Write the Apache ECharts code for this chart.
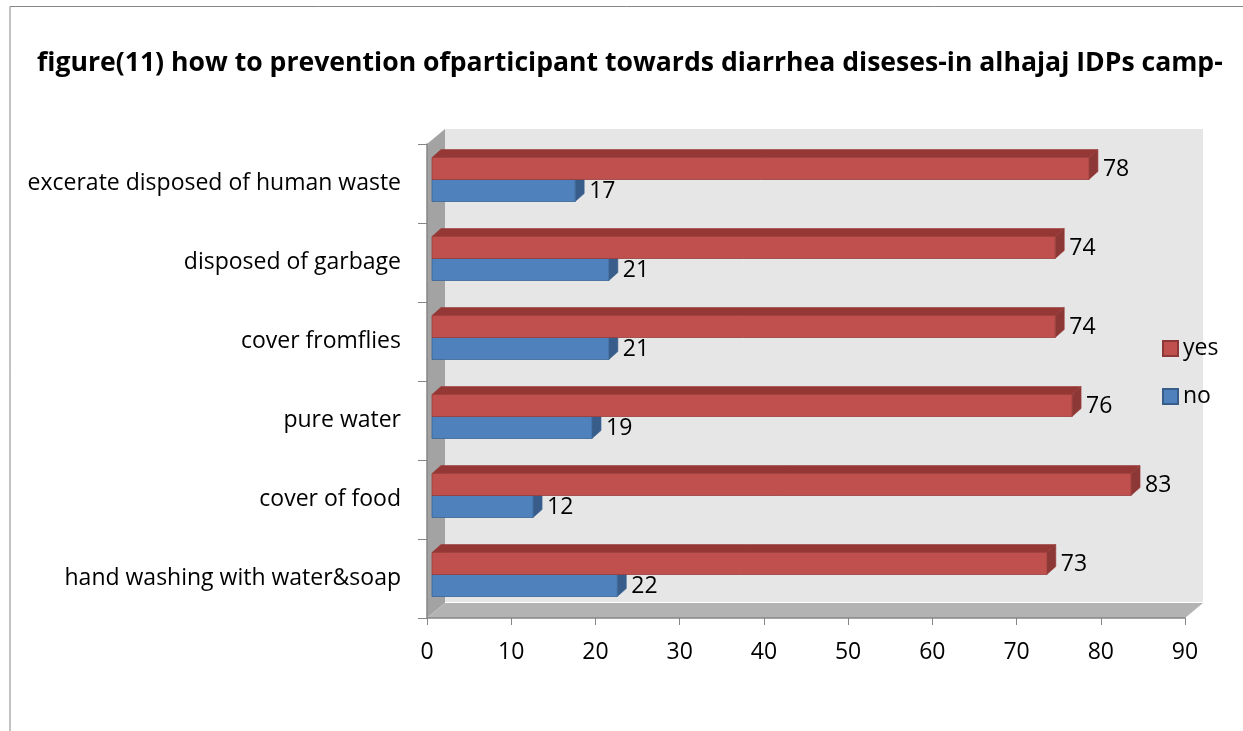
<!DOCTYPE html>
<html>
<head>
<meta charset="utf-8">
<script src="https://cdn.jsdelivr.net/npm/echarts@6/dist/echarts.min.js"></script>
<style>
  html, body { margin: 0; padding: 0; background: #fff; }
  #chart { width: 1243px; height: 731px; }
</style>
</head>
<body>
<div id="chart"></div>
<script>
  // categories top to bottom
  const categories = [
    "excerate disposed of human waste",
    "disposed of garbage",
    "cover fromflies",
    "pure water",
    "cover of food",
    "hand washing with water&soap"
  ];
  const yesValues = [78, 74, 74, 76, 83, 73];
  const noValues = [17, 21, 21, 19, 12, 22];
  const xTicks = { min: 0, max: 90, interval: 10 };

  const FONT = '"Open Sans", "Noto Sans", sans-serif';
  const chart = echarts.init(document.getElementById("chart"));

  // 3D depth of the walls / bars
  const wallDx = 18, wallDy = 15;
  const barDx = 9, barDy = 8;
  const barShift = 5;

  // box bar: front face, top face, end face and a value label
  const makeBar = (relTop, relBot, front, topFace, endFace, stroke) => (params, api) => {
    const v = api.value(0);
    const idx = api.value(1);
    const p0 = api.coord([0, idx]);
    const p1 = api.coord([v, idx]);
    const band = api.size([0, 1])[1];
    const x0 = p0[0] + barShift;
    const x1 = p1[0] + barShift;
    const yT = p0[1] + band * relTop;
    const yB = p0[1] + band * relBot;
    return {
      type: "group",
      children: [
        {
          type: "polygon",
          shape: { points: [[x0, yT], [x0 + barDx, yT - barDy], [x1 + barDx, yT - barDy], [x1, yT]] },
          style: { fill: topFace, stroke: stroke, lineWidth: 0.6 }
        },
        {
          type: "polygon",
          shape: { points: [[x1, yT], [x1 + barDx, yT - barDy], [x1 + barDx, yB - barDy], [x1, yB]] },
          style: { fill: endFace, stroke: stroke, lineWidth: 0.6 }
        },
        {
          type: "rect",
          shape: { x: x0, y: yT, width: x1 - x0, height: yB - yT },
          style: { fill: front, stroke: stroke, lineWidth: 0.8 }
        },
        {
          type: "text",
          x: x1 + barDx + 5,
          y: (yT + yB) / 2 + 1,
          style: { text: String(v), fill: "#000", font: "23px " + FONT, verticalAlign: "middle" }
        }
      ]
    };
  };

  // back wall, side wall and floor
  const renderWalls = (params) => {
    const c = params.coordSys;
    const L = c.x, T = c.y, R = c.x + c.width, B = c.y + c.height;
    return {
      type: "group",
      silent: true,
      children: [
        { type: "rect", shape: { x: L + wallDx, y: T - wallDy, width: c.width, height: c.height - 1 },
          style: { fill: "#e6e6e6" } },
        { type: "polygon", shape: { points: [[L, T], [L + wallDx, T - wallDy], [L + wallDx, B - wallDy], [L, B]] },
          style: { fill: "#a3a3a3" } },
        { type: "polygon", shape: { points: [[L, B], [L + wallDx, B - wallDy], [R + wallDx, B - wallDy], [R, B]] },
          style: { fill: "#b3b3b3" } }
      ]
    };
  };

  const option = {
    animation: false,
    backgroundColor: "#fff",
    textStyle: { fontFamily: FONT },
    title: {
      text: "figure(11) how to prevention ofparticipant towards diarrhea diseses-in alhajaj IDPs camp-",
      left: 37,
      top: 50,
      padding: 0,
      textStyle: { fontSize: 26.6, fontWeight: "bold", color: "#000", fontFamily: FONT }
    },
    graphic: [
      {
        type: "polyline",
        shape: { points: [[10, 731], [10, 6.5], [1243, 6.5]] },
        style: { stroke: "#868686", lineWidth: 1, fill: null },
        silent: true
      }
    ],
    legend: {
      data: ["yes", "no"],
      orient: "vertical",
      left: 1157,
      top: 332,
      itemWidth: 15,
      itemHeight: 15,
      itemGap: 25,
      itemTextGap: 7,
      icon: "rect",
      textStyle: { fontSize: 23, color: "#000", fontFamily: FONT }
    },
    grid: { left: 427, top: 144, width: 758, height: 474 },
    xAxis: {
      type: "value",
      min: xTicks.min,
      max: xTicks.max,
      interval: xTicks.interval,
      axisLine: { show: true, lineStyle: { color: "#868686", width: 1.5 } },
      axisTick: { show: true, length: 7, lineStyle: { color: "#868686" } },
      splitLine: { show: false },
      axisLabel: { fontSize: 23, color: "#000", margin: 23, fontFamily: FONT }
    },
    yAxis: {
      type: "category",
      data: categories,
      inverse: true,
      axisLine: { show: true, lineStyle: { color: "#868686", width: 1.5 } },
      axisTick: { show: true, length: 9, lineStyle: { color: "#868686" } },
      axisLabel: { fontSize: 23, color: "#000", margin: 26, fontFamily: FONT }
    },
    series: [
      {
        name: "walls",
        type: "custom",
        silent: true,
        z: 0,
        renderItem: renderWalls,
        data: [[0, 0]],
        encode: { x: 0, y: 1 }
      },
      {
        name: "no",
        type: "custom",
        z: 2,
        itemStyle: { color: "#4f81bd", borderColor: "#385d8a", borderWidth: 1 },
        renderItem: makeBar(-4 / 79, 18 / 79, "#4f81bd", "#3f6a9e", "#385d8a", "#3a6494"),
        data: noValues.map((v, i) => [v, i]),
        encode: { x: 0, y: 1 }
      },
      {
        name: "yes",
        type: "custom",
        z: 3,
        itemStyle: { color: "#c0504d", borderColor: "#8c3836", borderWidth: 1 },
        renderItem: makeBar(-26 / 79, -4 / 79, "#c0504d", "#953735", "#8c3836", "#9b3d3a"),
        data: yesValues.map((v, i) => [v, i]),
        encode: { x: 0, y: 1 }
      }
    ]
  };

  chart.setOption(option);
  window.addEventListener("resize", () => chart.resize());
</script>
</body>
</html>
